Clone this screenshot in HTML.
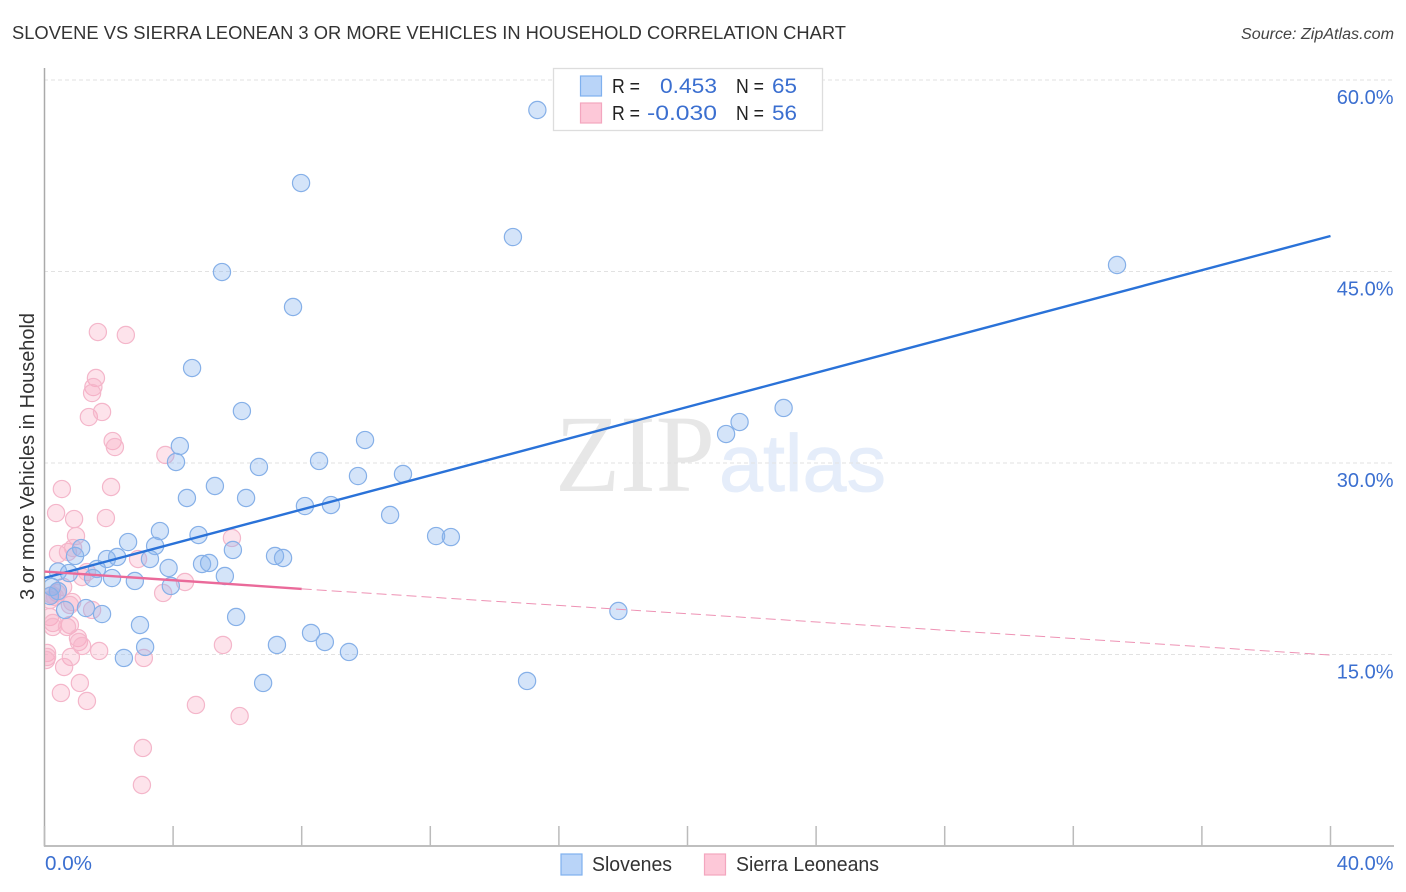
<!DOCTYPE html>
<html lang="en">
<head>
<meta charset="utf-8">
<title>Slovene vs Sierra Leonean 3 or More Vehicles in Household Correlation Chart</title>
<style>
html,body{margin:0;padding:0;background:#fff;width:1406px;height:892px;overflow:hidden}
svg{display:block;font-family:"Liberation Sans",sans-serif;filter:blur(0.35px)}
</style>
</head>
<body>
<svg id="chart" xmlns="http://www.w3.org/2000/svg" width="1406" height="892" viewBox="0 0 1406 892">
  <defs><clipPath id="plot-clip"><rect x="45" y="60" width="1361" height="786"></rect></clipPath></defs>
  <rect x="0" y="0" width="1406" height="892" fill="#fff"></rect>
  <text x="12" y="39" font-size="18.5" fill="#333" textLength="834" lengthAdjust="spacingAndGlyphs">SLOVENE VS SIERRA LEONEAN 3 OR MORE VEHICLES IN HOUSEHOLD CORRELATION CHART</text>
  <text x="1241" y="39" font-size="15.5" font-style="italic" fill="#444" textLength="153" lengthAdjust="spacingAndGlyphs">Source: ZipAtlas.com</text>
  <g>
    <text x="555" y="491" font-family="'Liberation Serif',serif" font-size="110" fill="#e7e7e7" textLength="160" lengthAdjust="spacingAndGlyphs">ZIP</text>
    <text x="719" y="491" font-size="81" fill="#e5edfa" stroke="#e5edfa" stroke-width="0.8" textLength="167" lengthAdjust="spacingAndGlyphs">atlas</text>
  </g>
  <g id="grid"></g>
  <g id="axes"></g>
  <g id="labels"></g>
  <text transform="translate(34,456.5) rotate(-90)" font-size="20" fill="#333" text-anchor="middle" textLength="287" lengthAdjust="spacingAndGlyphs">3 or more Vehicles in Household</text>
  <g id="points" clip-path="url(#plot-clip)"></g>
  <g id="trends"></g>
  <g>
    <rect x="553.5" y="68.5" width="269" height="62" fill="#fff" stroke="#ddd" stroke-width="1.3"></rect>
    <rect x="580.5" y="76" width="21" height="20" fill="#b9d4f8" stroke="#7fb0ee" stroke-width="1.2"></rect>
    <rect x="580.5" y="103" width="21" height="20" fill="#fdc8d8" stroke="#f3a6bf" stroke-width="1.2"></rect>
    <text x="612" y="93" font-size="20" fill="#222" textLength="28" lengthAdjust="spacingAndGlyphs">R =</text>
    <text x="660" y="93" font-size="21.5" fill="#3b6fd0" textLength="57" lengthAdjust="spacingAndGlyphs">0.453</text>
    <text x="736" y="93" font-size="20" fill="#222" textLength="28" lengthAdjust="spacingAndGlyphs">N =</text>
    <text x="772" y="93" font-size="21.5" fill="#3b6fd0" textLength="25" lengthAdjust="spacingAndGlyphs">65</text>
    <text x="612" y="120" font-size="20" fill="#222" textLength="28" lengthAdjust="spacingAndGlyphs">R =</text>
    <text x="647" y="120" font-size="21.5" fill="#3b6fd0" textLength="70" lengthAdjust="spacingAndGlyphs">-0.030</text>
    <text x="736" y="120" font-size="20" fill="#222" textLength="28" lengthAdjust="spacingAndGlyphs">N =</text>
    <text x="772" y="120" font-size="21.5" fill="#3b6fd0" textLength="25" lengthAdjust="spacingAndGlyphs">56</text>
  </g>
  <g>
    <rect x="561" y="854" width="21" height="21" fill="#b9d4f8" stroke="#7fb0ee" stroke-width="1.2"></rect>
    <text x="592" y="871" font-size="20" fill="#333" textLength="80" lengthAdjust="spacingAndGlyphs">Slovenes</text>
    <rect x="704.5" y="854" width="21" height="21" fill="#fdc8d8" stroke="#f3a6bf" stroke-width="1.2"></rect>
    <text x="736" y="871" font-size="20" fill="#333" textLength="143" lengthAdjust="spacingAndGlyphs">Sierra Leoneans</text>
  </g>
</svg>
<script>
const yTickValues = [60, 45, 30, 15];
const yTickLabels = ["60.0%", "45.0%", "30.0%", "15.0%"];
const xEndLabels = ["0.0%", "40.0%"];
const xTickValues = [0, 4, 8, 12, 16, 20, 24, 28, 32, 36, 40];

const sloveneX = [15.33,7.98,14.57,33.36,5.52,7.73,4.59,6.14,22.99,21.62,21.20,4.21,4.09,9.97,6.67,8.54,9.75,11.15,5.30,4.43,6.27,8.10,8.91,10.75,12.18,12.64,4.79,3.59,2.60,3.44,1.14,0.95,1.94,2.26,3.28,5.86,7.17,7.42,4.90,5.12,3.86,5.61,0.42,0.76,1.63,1.51,2.10,2.81,3.93,0.23,0.42,0.17,0.64,1.29,1.79,5.96,2.97,17.85,8.29,8.72,7.23,9.47,3.13,2.47,6.80,15.01];
const sloveneY = [57.65,51.93,47.70,45.51,44.96,42.22,37.44,34.07,34.31,33.21,32.27,31.33,30.08,31.80,29.69,30.16,28.98,29.14,28.20,27.26,27.26,26.63,26.71,25.93,24.28,24.20,24.36,24.67,23.81,23.50,23.34,22.72,22.48,22.64,22.48,23.19,22.72,22.56,22.09,22.17,21.78,21.15,21.50,21.38,21.70,20.99,20.99,20.76,20.37,20.29,19.97,19.58,18.49,18.64,18.17,17.94,17.31,18.41,16.69,15.98,15.75,15.20,15.59,14.73,12.77,12.93];

const leoneanX = [1.66,2.53,1.60,1.52,1.48,1.38,1.79,2.12,2.19,3.76,0.54,2.07,0.36,0.92,1.91,0.98,5.83,0.42,0.73,0.89,2.91,1.32,1.17,4.37,3.69,0.58,0.39,0.23,0.17,0.33,0.86,0.79,1.48,0.17,0.26,0.26,0.79,0.70,1.04,1.07,1.17,1.70,5.55,3.09,0.08,0.08,0.05,0.82,0.61,1.10,0.51,1.32,4.71,6.07,3.06,3.03];
const leoneanY = [40.26,40.03,36.66,35.95,35.48,33.60,34.00,31.72,31.25,30.63,27.96,28.12,26.08,25.61,25.69,24.28,24.13,22.87,23.03,23.34,22.48,21.46,21.07,20.68,19.82,20.29,19.82,19.66,19.27,19.51,19.11,18.88,18.49,17.94,17.47,17.16,17.31,17.16,16.29,15.98,15.67,15.28,15.75,14.73,15.12,14.81,14.57,14.81,14.02,12.77,11.99,11.36,11.05,10.18,7.68,4.78];

const sloveneTrendX = [0, 40];
const sloveneTrendY = [21.0, 47.78];
const leoneanTrendX = [0, 8, 40];
const leoneanTrendY = [21.5, 20.14, 14.96];

const svgNS = "http://www.w3.org/2000/svg";
const xScale = v => 44.5 + v * 32.15;
const yScale = v => 80 + (60 - v) * 12.767;
const mk = (tag, attrs, parent) => {
  const el = document.createElementNS(svgNS, tag);
  for (const k in attrs) el.setAttribute(k, attrs[k]);
  parent.appendChild(el);
  return el;
};

const gridG = document.getElementById("grid");
yTickValues.forEach(v => {
  const el = mk("line", {x1: 44, x2: 1394, y1: yScale(v), y2: yScale(v), stroke: "#e2e2e2", "stroke-width": 1, "stroke-dasharray": "4 3"}, gridG);
  
  
});

const axesG = document.getElementById("axes");
const yAxis = mk("line", {x1: 44.5, x2: 44.5, y1: 68, y2: 846.5, stroke: "#aaa", "stroke-width": 1.5}, axesG);


const xAxis = mk("line", {x1: 44, x2: 1394, y1: 846, y2: 846, stroke: "#aaa", "stroke-width": 1.5}, axesG);


xTickValues.forEach(v => {
  const el = mk("line", {x1: xScale(v), x2: xScale(v), y1: 826, y2: 846, stroke: "#bbb", "stroke-width": 1.5}, axesG);
  
  
});

const labelsG = document.getElementById("labels");
yTickValues.forEach((v, i) => {
  const el = mk("text", {x: 1393.5, y: yScale(v) + 24, "font-size": 20, fill: "#3b6fd0", "text-anchor": "end"}, labelsG);
  
  
  el.textContent = yTickLabels[i];
});
const xLabelLeft = mk("text", {x: 45, y: 870, "font-size": 20, fill: "#3b6fd0", textLength: 47, lengthAdjust: "spacingAndGlyphs"}, labelsG);


xLabelLeft.textContent = xEndLabels[0];
const xLabelRight = mk("text", {x: 1393.5, y: 870, "font-size": 20, fill: "#3b6fd0", "text-anchor": "end"}, labelsG);


xLabelRight.textContent = xEndLabels[1];

const pointsG = document.getElementById("points");
leoneanX.forEach((x, i) => {
  const el = mk("circle", {cx: xScale(x), cy: yScale(leoneanY[i]), r: 8.6, fill: "rgba(248,170,195,0.33)", stroke: "#f4b6ca", "stroke-width": 1.2}, pointsG);
  
  
});
sloveneX.forEach((x, i) => {
  const el = mk("circle", {cx: xScale(x), cy: yScale(sloveneY[i]), r: 8.6, fill: "rgba(135,180,238,0.36)", stroke: "#86b0e8", "stroke-width": 1.2}, pointsG);
  
  
});

const trendsG = document.getElementById("trends");
const blueTrend = mk("line", {x1: xScale(sloveneTrendX[0]), y1: yScale(sloveneTrendY[0]), x2: xScale(sloveneTrendX[1]), y2: yScale(sloveneTrendY[1]), stroke: "#2a72d8", "stroke-width": 2.4}, trendsG);


const pinkSolid = mk("line", {x1: xScale(leoneanTrendX[0]), y1: yScale(leoneanTrendY[0]), x2: xScale(leoneanTrendX[1]), y2: yScale(leoneanTrendY[1]), stroke: "#ea6a9a", "stroke-width": 2.4}, trendsG);


const pinkDash = mk("line", {x1: xScale(leoneanTrendX[1]), y1: yScale(leoneanTrendY[1]), x2: xScale(leoneanTrendX[2]), y2: yScale(leoneanTrendY[2]), stroke: "#ee92b4", "stroke-width": 1, "stroke-dasharray": "10 5"}, trendsG);


</script>
</body>
</html>
